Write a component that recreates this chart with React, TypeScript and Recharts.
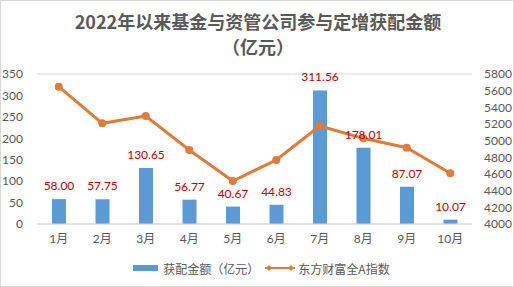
import { Bar, CartesianGrid, ComposedChart, LabelList, Legend, Line, XAxis, YAxis } from 'recharts'

const months = ['1月', '2月', '3月', '4月', '5月', '6月', '7月', '8月', '9月', '10月']
const placementAmounts = [58.0, 57.75, 130.65, 56.77, 40.67, 44.83, 311.56, 178.01, 87.07, 10.07]
const indexValues = [5648, 5208, 5296, 4888, 4516, 4768, 5176, 5028, 4916, 4608]
const leftTicks = [0, 50, 100, 150, 200, 250, 300, 350]
const rightTicks = [4000, 4200, 4400, 4600, 4800, 5000, 5200, 5400, 5600, 5800]

const data = months.map((m, i) => ({
  month: m,
  amount: placementAmounts[i],
  index: indexValues[i],
}))

const FONT = "Lato, 'Noto Sans CJK SC', sans-serif"
const BAR_COLOR = '#5b9bd5'
const LINE_COLOR = '#e07b39'
const TEXT_COLOR = '#595959'

const LegendContent = () => (
  <div
    style={{
      display: 'flex',
      justifyContent: 'center',
      alignItems: 'center',
      height: 20,
      fontFamily: "'Noto Sans CJK SC', sans-serif",
      fontSize: 12,
      color: TEXT_COLOR,
      paddingLeft: 10,
    }}
  >
    <span style={{ width: 25, height: 6, background: BAR_COLOR, marginRight: 5 }} />
    <span style={{ marginRight: 4 }}>获配金额（亿元）</span>
    <svg width={34} height={10} style={{ marginRight: 1 }}>
      <line x1={2} y1={5} x2={32} y2={5} stroke={LINE_COLOR} strokeWidth={2} />
      <path d="M3 5 L6 2 L9 5 L6 8 Z" fill={LINE_COLOR} />
      <path d="M25 5 L28 2 L31 5 L28 8 Z" fill={LINE_COLOR} />
    </svg>
    <span>东方财富全A指数</span>
  </div>
)

export default function App() {
  return (
    <div
      style={{
        position: 'absolute',
        left: 0,
        top: 0,
        width: 514,
        height: 287,
        background: '#fff',
        boxSizing: 'border-box',
        border: '1px solid #d9d9d9',
      }}
    >
      <div
        style={{
          position: 'absolute',
          top: 8,
          left: 0,
          width: 514,
          textAlign: 'center',
          fontFamily: "'Noto Sans CJK SC', sans-serif",
          fontWeight: 700,
          fontSize: 18,
          lineHeight: '25px',
          color: TEXT_COLOR,
        }}
      >
        2022年以来基金与资管公司参与定增获配金额
        <br />
        （亿元）
      </div>
      <ComposedChart
        width={512}
        height={285}
        data={data}
        margin={{ top: 73, right: 0, left: -1, bottom: 8 }}
        style={{ position: 'absolute', left: 0, top: 0 }}
      >
        <CartesianGrid vertical={false} stroke="#d9d9d9" />
        <XAxis
          dataKey="month"
          height={34}
          axisLine={{ stroke: '#d9d9d9' }}
          tickLine={false}
          tick={{ fill: TEXT_COLOR, fontSize: 12, fontFamily: FONT }}
          tickMargin={4}
          interval={0}
        />
        <YAxis
          yAxisId="left"
          domain={[0, 350]}
          ticks={leftTicks}
          width={37}
          axisLine={false}
          tickLine={false}
          tick={{ fill: TEXT_COLOR, fontSize: 12, fontFamily: FONT }}
          tickMargin={8}
          interval={0}
        />
        <YAxis
          yAxisId="right"
          orientation="right"
          domain={[4000, 5800]}
          ticks={rightTicks}
          width={41}
          axisLine={false}
          tickLine={false}
          tick={{ fill: TEXT_COLOR, fontSize: 12, fontFamily: FONT }}
          tickMargin={6}
          interval={0}
        />
        <Legend verticalAlign="bottom" content={<LegendContent />} />
        <Bar yAxisId="left" dataKey="amount" fill={BAR_COLOR} barSize={14} isAnimationActive={false}>
          <LabelList
            dataKey="amount"
            position="top"
            offset={9}
            formatter={(v: number) => v.toFixed(2)}
            style={{ fill: '#c00000', fontSize: 12, fontFamily: FONT }}
          />
        </Bar>
        <Line
          yAxisId="right"
          dataKey="index"
          stroke={LINE_COLOR}
          strokeWidth={3}
          dot={{ r: 4, fill: LINE_COLOR, stroke: LINE_COLOR, strokeWidth: 0 }}
          isAnimationActive={false}
        />
      </ComposedChart>
    </div>
  )
}
